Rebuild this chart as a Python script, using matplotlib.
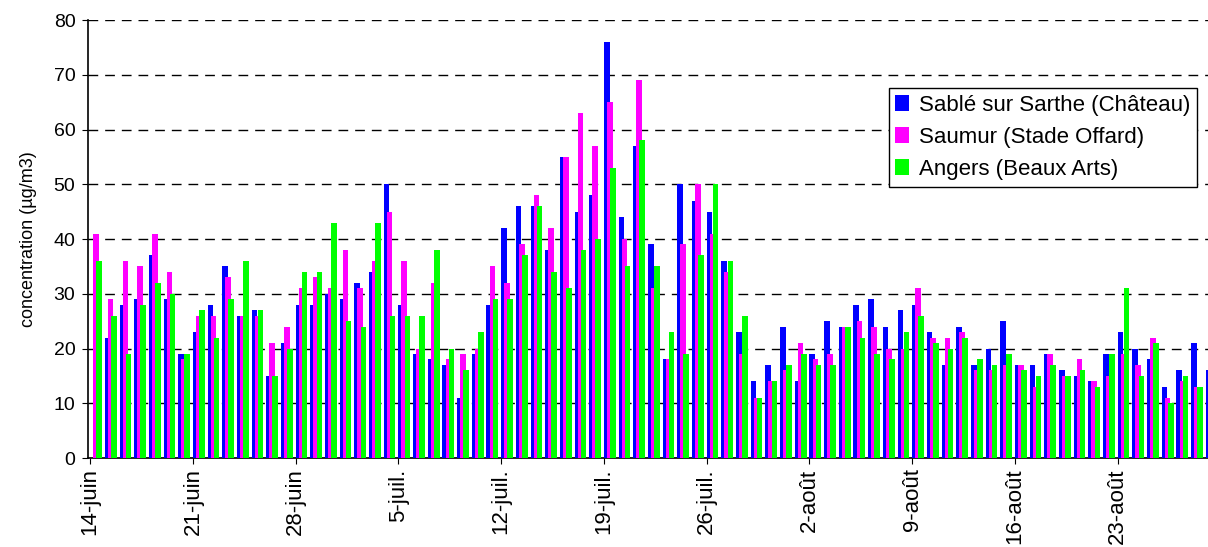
import matplotlib.pyplot as plt
import numpy as np

plt.rcParams['font.family'] = ['Liberation Sans', 'DejaVu Sans']

# daily values from 14-juin, one per day (nan = no data)
sable = [np.nan, 22, 28, 29, 37, 29, 19, 23, 28, 35, 26, 27, 15, 21, 28, 28, 30, 29, 32, 34,
         50, 28, 19, 18, 17, 11, 19, 28, 42, 46, 46, 38, 55, 45, 48, 76, 44, 57, 39, 18,
         50, 47, 45, 36, 23, 14, 17, 24, 14, 19, 25, 24, 28, 29, 24, 27, 28, 23, 17, 24,
         17, 20, 25, 17, 17, 19, 16, 15, 14, 19, 23, 20, 18, 13, 16, 21, 16]
saumur = [41, 29, 36, 35, 41, 34, 18, 26, 26, 33, 26, 26, 21, 24, 31, 33, 31, 38, 31, 36,
          45, 36, 20, 32, 18, 19, 20, 35, 32, 39, 48, 42, 55, 63, 57, 65, 40, 69, 31, 18,
          39, 50, 41, 34, 19, 11, 14, 16, 21, 18, 19, 24, 25, 24, 20, 20, 31, 22, 22, 23,
          16, 16, 17, 17, 13, 19, 15, 18, 14, 15, 19, 17, 22, 11, 14, 13, np.nan]
angers = [36, 26, 19, 28, 32, 30, 19, 27, 22, 29, 36, 27, 15, 20, 34, 34, 43, 25, 24, 43,
          26, 26, 26, 38, 20, 16, 23, 29, 29, 37, 46, 34, 31, 38, 40, 53, 35, 58, 35, 23,
          19, 37, 50, 36, 26, 11, 14, 17, 19, 17, 17, 24, 22, 19, 18, 23, 26, 21, 20, 22,
          18, 17, 19, 16, 15, 17, 15, 16, 13, 19, 31, 15, 21, 10, 15, 13, np.nan]
names = ['Sablé sur Sarthe (Château)', 'Saumur (Stade Offard)', 'Angers (Beaux Arts)']
colors = ['#0000FF', '#FF00FF', '#00FF00']
tick_labels = ['14-juin', '21-juin', '28-juin', '5-juil.', '12-juil.', '19-juil.',
               '26-juil.', '2-août', '9-août', '16-août', '23-août']

fig = plt.figure(figsize=(12.08, 5.47), dpi=100)
ax = fig.add_axes([0.0728, 0.1627, 0.9272, 0.8007])

x = np.arange(len(sable))
w = 0.38
for k, (vals, c, n) in enumerate(zip([sable, saumur, angers], colors, names)):
    ax.bar(x + 0.21 * k, vals, w, align='edge', color=c, label=n, zorder=3)

ax.set_ylim(0, 80)
ax.set_xlim(-0.15, 76.15)
ax.set_yticks(np.arange(0, 81, 10))
ax.yaxis.grid(True, color='black', linestyle=(0, (7, 5)), linewidth=1.0, zorder=0)
ax.set_xticks(np.arange(0, 77, 7))
ax.set_xticklabels(tick_labels, rotation=90)
ax.tick_params(axis='both', length=4, color='black')
ax.tick_params(axis='y', labelsize=14, pad=5)
ax.tick_params(axis='x', labelsize=16)
ax.set_ylabel('concentration (µg/m3)', fontsize=13, labelpad=12)
for s in ['top', 'right']:
    ax.spines[s].set_visible(False)
ax.spines['left'].set_linewidth(1.2)
ax.spines['bottom'].set_linewidth(1.2)

leg = ax.legend(loc='upper right', bbox_to_anchor=(0.990, 0.8447), fontsize=16,
                frameon=True, fancybox=False, edgecolor='black', framealpha=1,
                handlelength=0.6, handleheight=0.75, handletextpad=0.45,
                borderpad=0.3, borderaxespad=0, labelspacing=0.5)
leg.get_frame().set_linewidth(1.0)

plt.savefig('out.png', dpi=100)
